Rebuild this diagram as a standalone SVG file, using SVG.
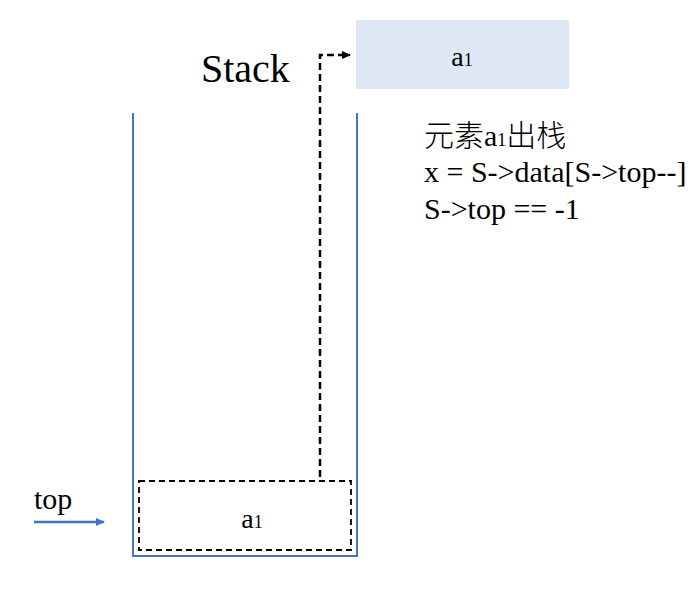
<svg xmlns="http://www.w3.org/2000/svg" width="698" height="599" viewBox="0 0 698 599">
<style>
text{font-family:"Liberation Serif","Noto Sans CJK SC",serif;fill:#000}
.sub{font-size:18px}
.cjk{font-weight:300}
.blue{stroke:#4472C4;stroke-width:2;fill:none}
.dash{stroke:#000;stroke-width:2.5;stroke-dasharray:7 4;fill:none}
</style>
<defs>
<marker id="ah" markerWidth="10" markerHeight="10" refX="8" refY="5" orient="auto" markerUnits="userSpaceOnUse">
<path d="M0,1 L9,5 L0,9 Z" fill="#000"/>
</marker>
<marker id="ahb" markerWidth="10" markerHeight="10" refX="8" refY="5" orient="auto" markerUnits="userSpaceOnUse">
<path d="M0,1 L9,5 L0,9 Z" fill="#4472C4"/>
</marker>
</defs>
<g id="stack-container">
<path class="blue" d="M133,113 L133,556 L357,556 L357,113"/>
</g>
<text id="stack-label" x="201" y="82" font-size="40">Stack</text>
<g id="node-top-a1">
<rect x="356" y="20" width="213" height="69" fill="#DEE8F4"/>
<text x="462" y="66" font-size="28" text-anchor="middle">a<tspan class="sub">1</tspan></text>
</g>
<g id="node-stack-a1">
<rect x="139" y="481" width="212" height="69" fill="none" stroke="#000" stroke-width="1.8" stroke-dasharray="6 4"/>
<text x="252" y="528" font-size="28" text-anchor="middle">a<tspan class="sub">1</tspan></text>
</g>
<g id="connectors">
<path class="dash" d="M320,477 L320,55 L350,55" marker-end="url(#ah)"/>
<line x1="34" y1="522" x2="104" y2="522" stroke="#4472C4" stroke-width="2.5" marker-end="url(#ahb)"/>
</g>
<text id="top-label" x="34" y="509" font-size="30">top</text>
<g id="notes" font-size="30">
<text x="424" y="146"><tspan class="cjk">元素</tspan>a<tspan class="sub">1</tspan><tspan class="cjk">出栈</tspan></text>
<text x="424" y="182">x = S-&gt;data[S-&gt;top--]</text>
<text x="424" y="219">S-&gt;top == -1</text>
</g>
</svg>
